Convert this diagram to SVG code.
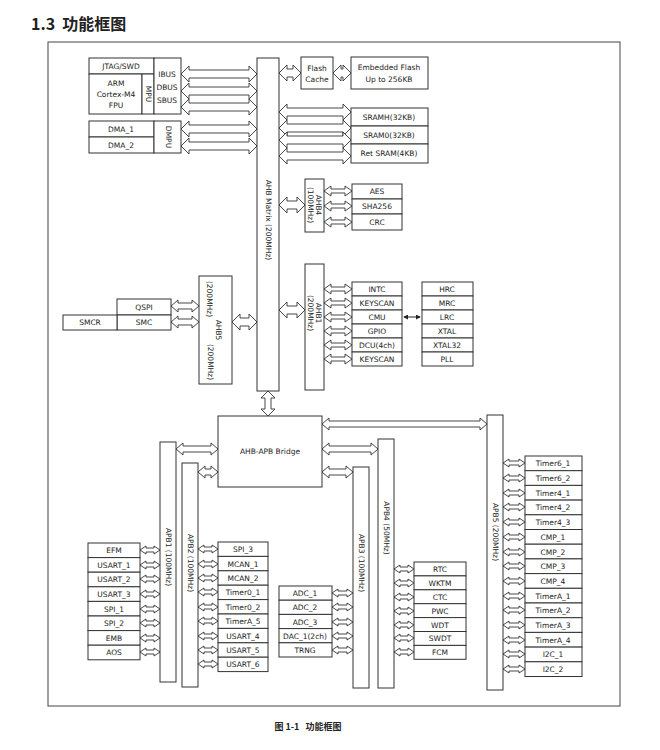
<svg xmlns="http://www.w3.org/2000/svg" width="660" height="750" viewBox="0 0 660 750">
<style>
.b{fill:#fff;stroke:#333;stroke-width:1}
.a{fill:#fff;stroke:#333;stroke-width:0.9}
text{font-family:"DejaVu Sans","Noto Sans",sans-serif;font-size:7.5px;fill:#222;text-anchor:middle;dominant-baseline:central}
.r{font-size:7.5px}
</style>
<defs>
<marker id="m" viewBox="0 0 6 6" refX="5" refY="3" markerWidth="5" markerHeight="5" orient="auto-start-reverse"><path d="M0 0L6 3L0 6z" fill="#222"/></marker>
</defs>
<rect width="660" height="750" fill="#fff"/>
<text x="31" y="23" xml:space="preserve" style="font-size:16px;font-weight:bold;text-anchor:start;font-family:'Noto Sans CJK SC','DejaVu Sans',sans-serif">1.3  功能框图</text>
<rect x="48" y="42" width="572" height="664" fill="none" stroke="#444" stroke-width="1"/>
<text x="308" y="726" xml:space="preserve" style="font-size:9px;font-weight:bold;font-family:'Noto Sans CJK SC','DejaVu Sans',sans-serif">图 1-1   功能框图</text>

<g id="connectors">
<path class="a" d="M181 74l8-8v4h60v-4l8 8l-8 8v-4h-60v4z"/>
<path class="a" d="M181 91l8-8v4h60v-4l8 8l-8 8v-4h-60v4z"/>
<path class="a" d="M181 107l8-8v4h60v-4l8 8l-8 8v-4h-60v4z"/>
<path class="a" d="M181 129l8-8v4h60v-4l8 8l-8 8v-4h-60v4z"/>
<path class="a" d="M181 146l8-8v4h60v-4l8 8l-8 8v-4h-60v4z"/>
<path class="a" d="M279 73l8-8v4h6v-4l8 8l-8 8v-4h-6v4z"/>
<path class="a" d="M333 73l8-8v4h2v-4l8 8l-8 8v-4h-2v4z"/>
<path class="a" d="M279 112l8-8v4h56v-4l8 8l-8 8v-4h-56v4z"/>
<path class="a" d="M279 128l8-8v4h56v-4l8 8l-8 8v-4h-56v4z"/>
<path class="a" d="M279 140l8-8v4h56v-4l8 8l-8 8v-4h-56v4z"/>
<path class="a" d="M279 156l8-8v4h56v-4l8 8l-8 8v-4h-56v4z"/>
<path class="a" d="M279 205l8-8v4h10v-4l8 8l-8 8v-4h-10v4z"/>
<path class="a" d="M279 310l8-8v4h10v-4l8 8l-8 8v-4h-10v4z"/>
<path class="a" d="M232 322l8-8v4h9v-4l8 8l-8 8v-4h-9v4z"/>
<path class="a" d="M171 306l7-6v3h14v-3l7 6l-7 6v-3h-14v3z"/>
<path class="a" d="M171 322l7-6v3h14v-3l7 6l-7 6v-3h-14v3z"/>
<path class="a" d="M324 191l7-5v3h14v-3l7 5l-7 5v-3h-14v3z"/>
<path class="a" d="M324 206l7-5v3h14v-3l7 5l-7 5v-3h-14v3z"/>
<path class="a" d="M324 222l7-5v3h14v-3l7 5l-7 5v-3h-14v3z"/>
<path class="a" d="M324 289l7-5v3h14v-3l7 5l-7 5v-3h-14v3z"/>
<path class="a" d="M324 303l7-5v3h14v-3l7 5l-7 5v-3h-14v3z"/>
<path class="a" d="M324 317l7-5v3h14v-3l7 5l-7 5v-3h-14v3z"/>
<path class="a" d="M324 331l7-5v3h14v-3l7 5l-7 5v-3h-14v3z"/>
<path class="a" d="M324 345l7-5v3h14v-3l7 5l-7 5v-3h-14v3z"/>
<path class="a" d="M324 359l7-5v3h14v-3l7 5l-7 5v-3h-14v3z"/>
<line x1="404" y1="317" x2="420" y2="317" stroke="#222" stroke-width="1" marker-start="url(#m)" marker-end="url(#m)"/>
<path class="a" d="M268 391l-7 7h4v11h-4l7 7l7-7h-4v-11h4z"/>
<path class="a" d="M176 449l7-6v3h28v-3l7 6l-7 6v-3h-28v3z"/>
<path class="a" d="M198 472l7-6v3h6v-3l7 6l-7 6v-3h-6v3z"/>
<path class="a" d="M322 449l7-6v3h42v-3l7 6l-7 6v-3h-42v3z"/>
<path class="a" d="M322 472l7-6v3h17v-3l7 6l-7 6v-3h-17v3z"/>
<path class="a" d="M322 424l7-6v3h151v-3l7 6l-7 6v-3h-151v3z"/>
<path class="a" d="M140 550l6-4v2h8v-2l6 4l-6 4v-2h-8v2z"/>
<path class="a" d="M140 565l6-4v2h8v-2l6 4l-6 4v-2h-8v2z"/>
<path class="a" d="M140 579l6-4v2h8v-2l6 4l-6 4v-2h-8v2z"/>
<path class="a" d="M140 594l6-4v2h8v-2l6 4l-6 4v-2h-8v2z"/>
<path class="a" d="M140 609l6-4v2h8v-2l6 4l-6 4v-2h-8v2z"/>
<path class="a" d="M140 623l6-4v2h8v-2l6 4l-6 4v-2h-8v2z"/>
<path class="a" d="M140 638l6-4v2h8v-2l6 4l-6 4v-2h-8v2z"/>
<path class="a" d="M140 652l6-4v2h8v-2l6 4l-6 4v-2h-8v2z"/>
<path class="a" d="M198 549l6-4v2h8v-2l6 4l-6 4v-2h-8v2z"/>
<path class="a" d="M198 564l6-4v2h8v-2l6 4l-6 4v-2h-8v2z"/>
<path class="a" d="M198 578l6-4v2h8v-2l6 4l-6 4v-2h-8v2z"/>
<path class="a" d="M198 592l6-4v2h8v-2l6 4l-6 4v-2h-8v2z"/>
<path class="a" d="M198 607l6-4v2h8v-2l6 4l-6 4v-2h-8v2z"/>
<path class="a" d="M198 621l6-4v2h8v-2l6 4l-6 4v-2h-8v2z"/>
<path class="a" d="M198 636l6-4v2h8v-2l6 4l-6 4v-2h-8v2z"/>
<path class="a" d="M198 650l6-4v2h8v-2l6 4l-6 4v-2h-8v2z"/>
<path class="a" d="M198 664l6-4v2h8v-2l6 4l-6 4v-2h-8v2z"/>
<path class="a" d="M332 593l6-4v2h9v-2l6 4l-6 4v-2h-9v2z"/>
<path class="a" d="M332 607l6-4v2h9v-2l6 4l-6 4v-2h-9v2z"/>
<path class="a" d="M332 622l6-4v2h9v-2l6 4l-6 4v-2h-9v2z"/>
<path class="a" d="M332 636l6-4v2h9v-2l6 4l-6 4v-2h-9v2z"/>
<path class="a" d="M332 650l6-4v2h9v-2l6 4l-6 4v-2h-9v2z"/>
<path class="a" d="M394 569l6-4v2h8v-2l6 4l-6 4v-2h-8v2z"/>
<path class="a" d="M394 583l6-4v2h8v-2l6 4l-6 4v-2h-8v2z"/>
<path class="a" d="M394 597l6-4v2h8v-2l6 4l-6 4v-2h-8v2z"/>
<path class="a" d="M394 611l6-4v2h8v-2l6 4l-6 4v-2h-8v2z"/>
<path class="a" d="M394 625l6-4v2h8v-2l6 4l-6 4v-2h-8v2z"/>
<path class="a" d="M394 638l6-4v2h8v-2l6 4l-6 4v-2h-8v2z"/>
<path class="a" d="M394 652l6-4v2h8v-2l6 4l-6 4v-2h-8v2z"/>
<path class="a" d="M503 463l6-4v2h10v-2l6 4l-6 4v-2h-10v2z"/>
<path class="a" d="M503 478l6-4v2h10v-2l6 4l-6 4v-2h-10v2z"/>
<path class="a" d="M503 493l6-4v2h10v-2l6 4l-6 4v-2h-10v2z"/>
<path class="a" d="M503 507l6-4v2h10v-2l6 4l-6 4v-2h-10v2z"/>
<path class="a" d="M503 522l6-4v2h10v-2l6 4l-6 4v-2h-10v2z"/>
<path class="a" d="M503 537l6-4v2h10v-2l6 4l-6 4v-2h-10v2z"/>
<path class="a" d="M503 552l6-4v2h10v-2l6 4l-6 4v-2h-10v2z"/>
<path class="a" d="M503 566l6-4v2h10v-2l6 4l-6 4v-2h-10v2z"/>
<path class="a" d="M503 581l6-4v2h10v-2l6 4l-6 4v-2h-10v2z"/>
<path class="a" d="M503 596l6-4v2h10v-2l6 4l-6 4v-2h-10v2z"/>
<path class="a" d="M503 610l6-4v2h10v-2l6 4l-6 4v-2h-10v2z"/>
<path class="a" d="M503 625l6-4v2h10v-2l6 4l-6 4v-2h-10v2z"/>
<path class="a" d="M503 640l6-4v2h10v-2l6 4l-6 4v-2h-10v2z"/>
<path class="a" d="M503 654l6-4v2h10v-2l6 4l-6 4v-2h-10v2z"/>
<path class="a" d="M503 669l6-4v2h10v-2l6 4l-6 4v-2h-10v2z"/>
</g>

<g id="cpu">
<rect class="b" x="89" y="58" width="65" height="16"/><text x="121" y="66">JTAG/SWD</text>
<rect class="b" x="89" y="74" width="53" height="40"/><text x="116" y="83">ARM</text><text x="116" y="94">Cortex-M4</text><text x="116" y="105">FPU</text>
<rect class="b" x="142" y="74" width="12" height="40"/><text class="r" transform="rotate(90 148 94)" x="148" y="94">MPU</text>
<rect class="b" x="154" y="58" width="27" height="56"/><text x="167" y="74">IBUS</text><text x="167" y="87">DBUS</text><text x="167" y="100">SBUS</text>
</g>
<g id="dma">
<rect class="b" x="89" y="121" width="65" height="16"/><text x="121" y="129">DMA_1</text>
<rect class="b" x="89" y="137" width="65" height="16"/><text x="121" y="145">DMA_2</text>
<rect class="b" x="154" y="121" width="27" height="32"/><text class="r" transform="rotate(90 168 137)" x="168" y="137">DMPU</text>
</g>
<g id="ahbmatrix">
<rect class="b" x="257" y="58" width="22" height="333"/><text class="r" transform="rotate(90 268 220)" x="268" y="220">AHB Matrix (200MHz)</text>
</g>
<g id="flash">
<rect class="b" x="301" y="57" width="32" height="32"/><text x="317" y="68">Flash</text><text x="317" y="79">Cache</text>
<rect class="b" x="351" y="57" width="77" height="32"/><text x="389" y="67">Embedded Flash</text><text x="389" y="79">Up to 256KB</text>
</g>
<g id="sram">
<rect class="b" x="351" y="108" width="77" height="18"/><text x="389" y="117">SRAMH(32KB)</text>
<rect class="b" x="351" y="126" width="77" height="18"/><text x="389" y="135">SRAM0(32KB)</text>
<rect class="b" x="351" y="144" width="77" height="19"/><text x="389" y="153">Ret SRAM(4KB)</text>
</g>
<g id="ahb4">
<rect class="b" x="305" y="179" width="19" height="53"/>
<text class="r" transform="rotate(90 318 205)" x="318" y="205">AHB4</text>
<text class="r" transform="rotate(90 310 205)" x="310" y="205">(100MHz)</text>
<rect class="b" x="352" y="184" width="50" height="15"/><text x="377" y="191">AES</text>
<rect class="b" x="352" y="199" width="50" height="15"/><text x="377" y="206">SHA256</text>
<rect class="b" x="352" y="214" width="50" height="16"/><text x="377" y="222">CRC</text>
</g>
<g id="ahb1">
<rect class="b" x="305" y="264" width="19" height="126"/>
<text class="r" transform="rotate(90 318 313)" x="318" y="313">AHB1</text>
<text class="r" transform="rotate(90 310 313)" x="310" y="313">(200MHz)</text>
<rect class="b" x="352" y="282" width="50" height="14"/><text x="377" y="289">INTC</text>
<rect class="b" x="352" y="296" width="50" height="14"/><text x="377" y="303">KEYSCAN</text>
<rect class="b" x="352" y="310" width="50" height="14"/><text x="377" y="317">CMU</text>
<rect class="b" x="352" y="324" width="50" height="14"/><text x="377" y="331">GPIO</text>
<rect class="b" x="352" y="338" width="50" height="14"/><text x="377" y="345">DCU(4ch)</text>
<rect class="b" x="352" y="352" width="50" height="14"/><text x="377" y="359">KEYSCAN</text>
</g>
<g id="clocks">
<rect class="b" x="422" y="282" width="51" height="14"/><text x="447" y="289">HRC</text>
<rect class="b" x="422" y="296" width="51" height="14"/><text x="447" y="303">MRC</text>
<rect class="b" x="422" y="310" width="51" height="14"/><text x="447" y="317">LRC</text>
<rect class="b" x="422" y="324" width="51" height="14"/><text x="447" y="331">XTAL</text>
<rect class="b" x="422" y="338" width="51" height="14"/><text x="447" y="345">XTAL32</text>
<rect class="b" x="422" y="352" width="51" height="14"/><text x="447" y="359">PLL</text>
</g>
<g id="ahb5">
<rect class="b" x="199" y="276" width="33" height="108"/>
<text class="r" transform="rotate(90 209 299)" x="209" y="299">(200MHz)</text>
<text class="r" transform="rotate(90 218 330)" x="218" y="330">AHB5</text>
<text class="r" transform="rotate(90 210 362)" x="210" y="362">(200MHz)</text>
<rect class="b" x="117" y="299" width="54" height="16"/><text x="144" y="307">QSPI</text>
<rect class="b" x="117" y="315" width="54" height="15"/><text x="144" y="322">SMC</text>
<rect class="b" x="63" y="315" width="54" height="15"/><text x="90" y="322">SMCR</text>
</g>
<g id="bridge">
<rect class="b" x="218" y="416" width="104" height="71"/><text x="270" y="451">AHB-APB Bridge</text>
</g>
<g id="apb1">
<rect class="b" x="160" y="442" width="16" height="240"/><text class="r" transform="rotate(90 168 557)" x="168" y="557">APB1 (100MHz)</text>
<rect class="b" x="88" y="543" width="52" height="14.6"/><text x="114" y="550">EFM</text>
<rect class="b" x="88" y="557.6" width="52" height="14.6"/><text x="114" y="565">USART_1</text>
<rect class="b" x="88" y="572.2" width="52" height="14.6"/><text x="114" y="579">USART_2</text>
<rect class="b" x="88" y="586.8" width="52" height="14.6"/><text x="114" y="594">USART_3</text>
<rect class="b" x="88" y="601.4" width="52" height="14.6"/><text x="114" y="609">SPI_1</text>
<rect class="b" x="88" y="616" width="52" height="14.6"/><text x="114" y="623">SPI_2</text>
<rect class="b" x="88" y="630.6" width="52" height="14.6"/><text x="114" y="638">EMB</text>
<rect class="b" x="88" y="645.2" width="52" height="14.6"/><text x="114" y="652">AOS</text>
</g>
<g id="apb2">
<rect class="b" x="182" y="463" width="16" height="224"/><text class="r" transform="rotate(90 190 563)" x="190" y="563">APB2 (100MHz)</text>
<rect class="b" x="218" y="542" width="50" height="14.4"/><text x="243" y="549">SPI_3</text>
<rect class="b" x="218" y="556.4" width="50" height="14.4"/><text x="243" y="564">MCAN_1</text>
<rect class="b" x="218" y="570.8" width="50" height="14.4"/><text x="243" y="578">MCAN_2</text>
<rect class="b" x="218" y="585.2" width="50" height="14.4"/><text x="243" y="592">Timer0_1</text>
<rect class="b" x="218" y="599.6" width="50" height="14.4"/><text x="243" y="607">Timer0_2</text>
<rect class="b" x="218" y="614" width="50" height="14.4"/><text x="243" y="621">TimerA_5</text>
<rect class="b" x="218" y="628.4" width="50" height="14.4"/><text x="243" y="636">USART_4</text>
<rect class="b" x="218" y="642.8" width="50" height="14.4"/><text x="243" y="650">USART_5</text>
<rect class="b" x="218" y="657.2" width="50" height="14.4"/><text x="243" y="664">USART_6</text>
</g>
<g id="apb3">
<rect class="b" x="353" y="467" width="16" height="221"/><text class="r" transform="rotate(90 361 563)" x="361" y="563">APB3 (100MHz)</text>
<rect class="b" x="279" y="586" width="53" height="14.2"/><text x="305" y="593">ADC_1</text>
<rect class="b" x="279" y="600.2" width="53" height="14.2"/><text x="305" y="607">ADC_2</text>
<rect class="b" x="279" y="614.4" width="53" height="14.2"/><text x="305" y="622">ADC_3</text>
<rect class="b" x="279" y="628.6" width="53" height="14.2"/><text x="305" y="636">DAC_1(2ch)</text>
<rect class="b" x="279" y="642.8" width="53" height="14.2"/><text x="305" y="650">TRNG</text>
</g>
<g id="apb4">
<rect class="b" x="378" y="439" width="16" height="249"/><text class="r" transform="rotate(90 386 528)" x="386" y="528">APB4 (50MHz)</text>
<rect class="b" x="414" y="562" width="52" height="13.9"/><text x="440" y="569">RTC</text>
<rect class="b" x="414" y="575.9" width="52" height="13.9"/><text x="440" y="583">WKTM</text>
<rect class="b" x="414" y="589.8" width="52" height="13.9"/><text x="440" y="597">CTC</text>
<rect class="b" x="414" y="603.7" width="52" height="13.9"/><text x="440" y="611">PWC</text>
<rect class="b" x="414" y="617.6" width="52" height="13.9"/><text x="440" y="625">WDT</text>
<rect class="b" x="414" y="631.5" width="52" height="13.9"/><text x="440" y="638">SWDT</text>
<rect class="b" x="414" y="645.4" width="52" height="13.9"/><text x="440" y="652">FCM</text>
</g>
<g id="apb5">
<rect class="b" x="487" y="415" width="16" height="275"/><text class="r" transform="rotate(90 495 532)" x="495" y="532">APB5 (200MHz)</text>
<rect class="b" x="525" y="456" width="57" height="14.7"/><text x="553" y="463">Timer6_1</text>
<rect class="b" x="525" y="470.7" width="57" height="14.7"/><text x="553" y="478">Timer6_2</text>
<rect class="b" x="525" y="485.4" width="57" height="14.7"/><text x="553" y="493">Timer4_1</text>
<rect class="b" x="525" y="500.1" width="57" height="14.7"/><text x="553" y="507">Timer4_2</text>
<rect class="b" x="525" y="514.8" width="57" height="14.7"/><text x="553" y="522">Timer4_3</text>
<rect class="b" x="525" y="529.5" width="57" height="14.7"/><text x="553" y="537">CMP_1</text>
<rect class="b" x="525" y="544.2" width="57" height="14.7"/><text x="553" y="552">CMP_2</text>
<rect class="b" x="525" y="558.9" width="57" height="14.7"/><text x="553" y="566">CMP_3</text>
<rect class="b" x="525" y="573.6" width="57" height="14.7"/><text x="553" y="581">CMP_4</text>
<rect class="b" x="525" y="588.3" width="57" height="14.7"/><text x="553" y="596">TimerA_1</text>
<rect class="b" x="525" y="603" width="57" height="14.7"/><text x="553" y="610">TimerA_2</text>
<rect class="b" x="525" y="617.7" width="57" height="14.7"/><text x="553" y="625">TimerA_3</text>
<rect class="b" x="525" y="632.4" width="57" height="14.7"/><text x="553" y="640">TimerA_4</text>
<rect class="b" x="525" y="647.1" width="57" height="14.7"/><text x="553" y="654">I2C_1</text>
<rect class="b" x="525" y="661.8" width="57" height="14.7"/><text x="553" y="669">I2C_2</text>
</g>
</svg>
